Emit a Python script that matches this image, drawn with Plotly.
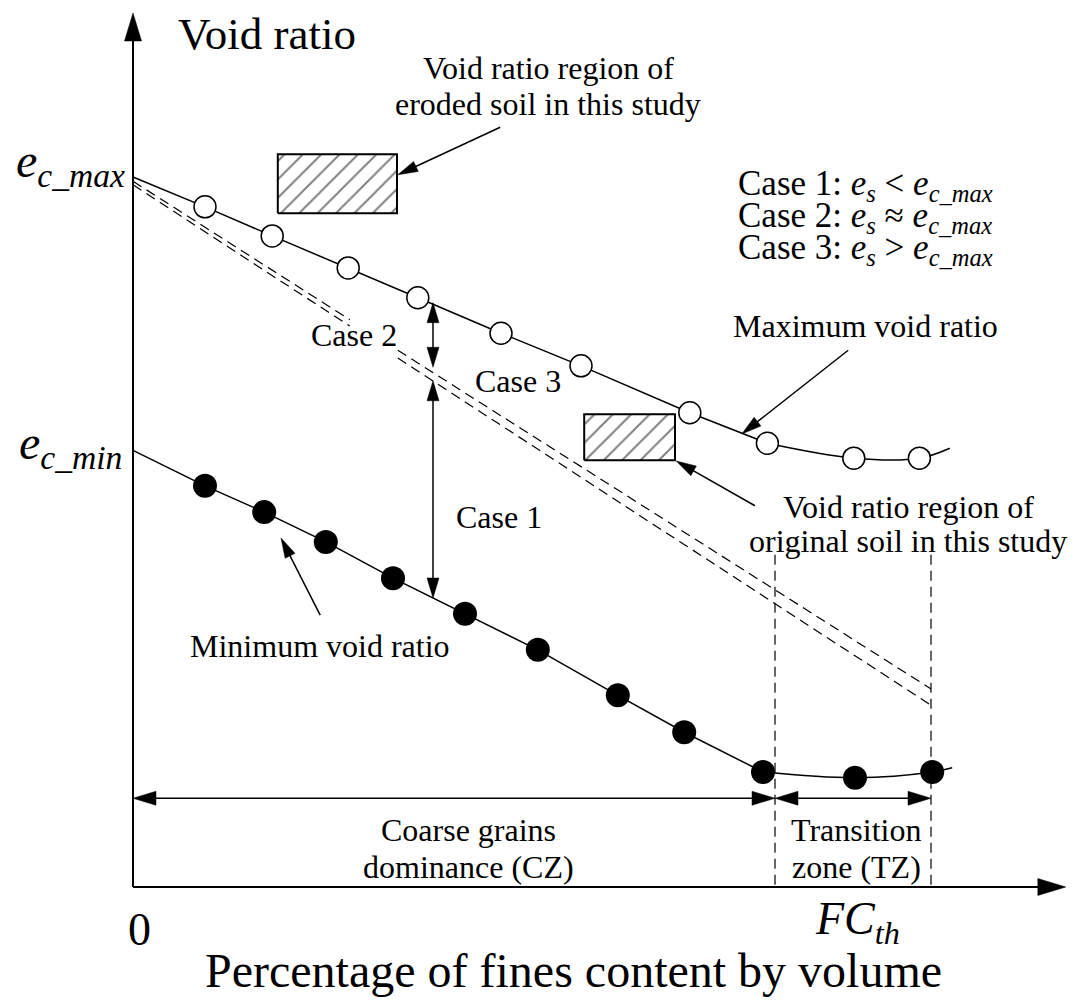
import math
import plotly.graph_objects as go

FONT = "Liberation Serif, Times New Roman, serif"

# ---------------- data (fines content FC, void ratio e; schematic units) ----------------
E_C_MAX = 1.0
E_C_MIN = 0.615
FC_CZ_END = 80.25      # end of coarse-grain dominance zone
FC_TH = 99.75          # threshold fines content

max_fc = [9.0, 17.4, 26.9, 35.6, 46.0, 56.0, 69.6, 79.3, 90.1, 98.3]
max_e = [0.958, 0.917, 0.872, 0.830, 0.780, 0.734, 0.668, 0.625, 0.604, 0.604]
max_end_fc = [102.1]
max_end_e = [0.618]

min_fc = [9.0, 16.4, 24.1, 32.5, 41.5, 50.6, 60.6, 68.9, 78.75, 90.25, 99.9]
min_e = [0.565, 0.528, 0.486, 0.435, 0.385, 0.334, 0.270, 0.218, 0.162, 0.154, 0.162]
min_end_fc = [102.4]
min_end_e = [0.168]

dash_upper_fc = [0.0, 27.1, None, 33.1, 99.75]
dash_upper_e = [0.994, 0.799, None, 0.756, 0.279]
dash_lower_fc = [0.0, 27.1, None, 33.1, 99.75]
dash_lower_e = [0.989, 0.790, None, 0.745, 0.256]

zone_top_e = 0.468
dim_arrow_e = 0.125

eroded_rect_fc = [18.1, 33.0]
eroded_rect_e = [0.949, 1.032]
orig_rect_fc = [56.4, 67.75]
orig_rect_e = [0.601, 0.666]

case_arrow_fc = 37.5
case2_arrow_e = [0.823, 0.732]
case1_arrow_e = [0.713, 0.407]

# pointer arrows: (tail_fc, tail_e, tip_fc, tip_e)
ptr_eroded = (45.9, 1.070, 33.1, 1.003)
ptr_max = (89.4, 0.756, 76.1, 0.638)
ptr_orig = (77.75, 0.537, 67.9, 0.600)
ptr_min = (23.4, 0.383, 18.5, 0.4915)

y_axis_top = 1.231
x_axis_end = 116.6

# ---------------- scales ----------------
# page has an 8px body margin; the figure fills the rest of the 1077x1007 window
PAGE_M = 8
W_PX, H_PX = 1077 - 2 * PAGE_M, 1007 - 2 * PAGE_M
SX, SY = 8.0, 710.0          # px per unit
X0_PAGE, Y0_PAGE = 133, 887  # page position of the origin
X_RANGE = [(PAGE_M - X0_PAGE) / SX, (PAGE_M + W_PX - X0_PAGE) / SX]
Y_RANGE = [(Y0_PAGE - PAGE_M - H_PX) / SY, (Y0_PAGE - PAGE_M) / SY]

fig = go.Figure()


def line(xs, ys, width=1.5, dash=None, shape="linear"):
    fig.add_trace(go.Scatter(x=xs, y=ys, mode="lines", hoverinfo="skip",
                             line=dict(color="black", width=width, dash=dash, shape=shape),
                             connectgaps=False))


def head(xt, yt, xf, yf, L, W):
    dx, dy = (xt - xf) * SX, (yt - yf) * SY
    n = math.hypot(dx, dy)
    ux, uy = dx / n, dy / n
    bx, by = xt * SX - L * ux, yt * SY - L * uy
    px, py = -uy, ux
    pts = [(xt * SX, yt * SY), (bx + W / 2 * px, by + W / 2 * py),
           (bx - W / 2 * px, by - W / 2 * py), (xt * SX, yt * SY)]
    fig.add_trace(go.Scatter(x=[p[0] / SX for p in pts], y=[p[1] / SY for p in pts],
                             mode="lines", fill="toself", fillcolor="black",
                             line=dict(color="black", width=0.5), hoverinfo="skip"))
    return (bx + 2 * ux) / SX, (by + 2 * uy) / SY


def arrow(x0, y0, x1, y1, L=20, W=11, both=False, width=1.5):
    ex, ey = head(x1, y1, x0, y0, L, W)
    sx, sy = x0, y0
    if both:
        sx, sy = head(x0, y0, x1, y1, L, W)
    line([sx, ex], [sy, ey], width=width)


# dashed reference lines
line(dash_upper_fc, dash_upper_e, width=1.2, dash="10px,6px")
line(dash_lower_fc, dash_lower_e, width=1.2, dash="10px,6px")
for fc in (FC_CZ_END, FC_TH):
    line([fc, fc], [zone_top_e, 0], width=1.2, dash="10px,6px")

# curves
line([0.0] + max_fc[:8], [E_C_MAX] + max_e[:8])
line(max_fc[7:] + max_end_fc, max_e[7:] + max_end_e, shape="spline")
line([0.0] + min_fc[:9], [E_C_MIN] + min_e[:9])
line(min_fc[8:] + min_end_fc, min_e[8:] + min_end_e, shape="spline")

# hatched regions
for rx, ry in ((eroded_rect_fc, eroded_rect_e), (orig_rect_fc, orig_rect_e)):
    fig.add_trace(go.Scatter(
        x=[rx[0], rx[1], rx[1], rx[0], rx[0]], y=[ry[0], ry[0], ry[1], ry[1], ry[0]],
        mode="lines", fill="toself", fillcolor="white", hoverinfo="skip",
        fillpattern=dict(shape="/", size=13, solidity=0.15, fgcolor="#000000", bgcolor="white"),
        line=dict(color="black", width=2)))

# markers
fig.add_trace(go.Scatter(x=max_fc, y=max_e, mode="markers", hoverinfo="skip",
                         marker=dict(size=22, color="white", line=dict(color="black", width=1.5))))
fig.add_trace(go.Scatter(x=min_fc, y=min_e, mode="markers", hoverinfo="skip",
                         marker=dict(size=24, color="black", line=dict(color="black", width=0))))

# axes
arrow(0, 0, 0, y_axis_top, L=28, W=17, width=2)
arrow(0, 0, x_axis_end, 0, L=28, W=17, width=2)

# case arrows
arrow(case_arrow_fc, case2_arrow_e[0], case_arrow_fc, case2_arrow_e[1], L=20, W=12, both=True)
arrow(case_arrow_fc, case1_arrow_e[0], case_arrow_fc, case1_arrow_e[1], L=20, W=12, both=True)

# zone dimension arrows
arrow(0, dim_arrow_e, FC_CZ_END, dim_arrow_e, L=23, W=14, both=True)
arrow(FC_CZ_END, dim_arrow_e, FC_TH, dim_arrow_e, L=23, W=14, both=True)

# pointer arrows
for p in (ptr_eroded, ptr_max, ptr_orig, ptr_min):
    arrow(*p, L=20, W=11)


def label(fc, e, text, size=32, xanchor="center", yanchor="middle"):
    fig.add_annotation(x=fc, y=e, xref="x", yref="y", text=text, showarrow=False,
                       font=dict(family=FONT, size=size, color="black"),
                       xanchor=xanchor, yanchor=yanchor)


label(16.75, 1.2014, "Void ratio", 45)
label(55.0, -0.1169, "Percentage of fines content by volume", 48)
label(0.75, -0.0592, "0", 46)
label(90.5, -0.0056, "<i>FC</i><sub><i>th</i></sub>", 46, yanchor="top")
label(-0.75, 1.0634, "<i>e</i><sub><i>c_max</i></sub>", 48, xanchor="right", yanchor="top")
label(-1.125, 0.6662, "<i>e</i><sub><i>c_min</i></sub>", 48, xanchor="right", yanchor="top")

label(91.5, 0.9887, "Case 1: <i>e</i><sub><i>s</i></sub> &lt; <i>e</i><sub><i>c_max</i></sub>", 35)
label(91.5, 0.9423, "Case 2: <i>e</i><sub><i>s</i></sub> ≈ <i>e</i><sub><i>c_max</i></sub>", 35)
label(91.5, 0.8972, "Case 3: <i>e</i><sub><i>s</i></sub> &gt; <i>e</i><sub><i>c_max</i></sub>", 35)

label(27.6, 0.7775, "Case 2")
label(48.1, 0.7127, "Case 3")
label(45.75, 0.5211, "Case 1")

label(91.5, 0.790, "Maximum void ratio")
label(51.9, 1.1535, "Void ratio region of")
label(51.9, 1.1028, "eroded soil in this study")
label(96.9, 0.5352, "Void ratio region of")
label(96.9, 0.4873, "original soil in this study")
label(23.4, 0.3394, "Minimum void ratio")
label(41.9, 0.0803, "Coarse grains")
label(41.9, 0.0282, "dominance (CZ)")
label(90.4, 0.0803, "Transition")
label(90.4, 0.0282, "zone (TZ)")

fig.update_layout(
    width=W_PX, height=H_PX, margin=dict(l=0, r=0, t=0, b=0),
    paper_bgcolor="white", plot_bgcolor="white", showlegend=False,
    xaxis=dict(range=X_RANGE, visible=False, fixedrange=True),
    yaxis=dict(range=Y_RANGE, visible=False, fixedrange=True),
)

fig.write_html("out.html")
